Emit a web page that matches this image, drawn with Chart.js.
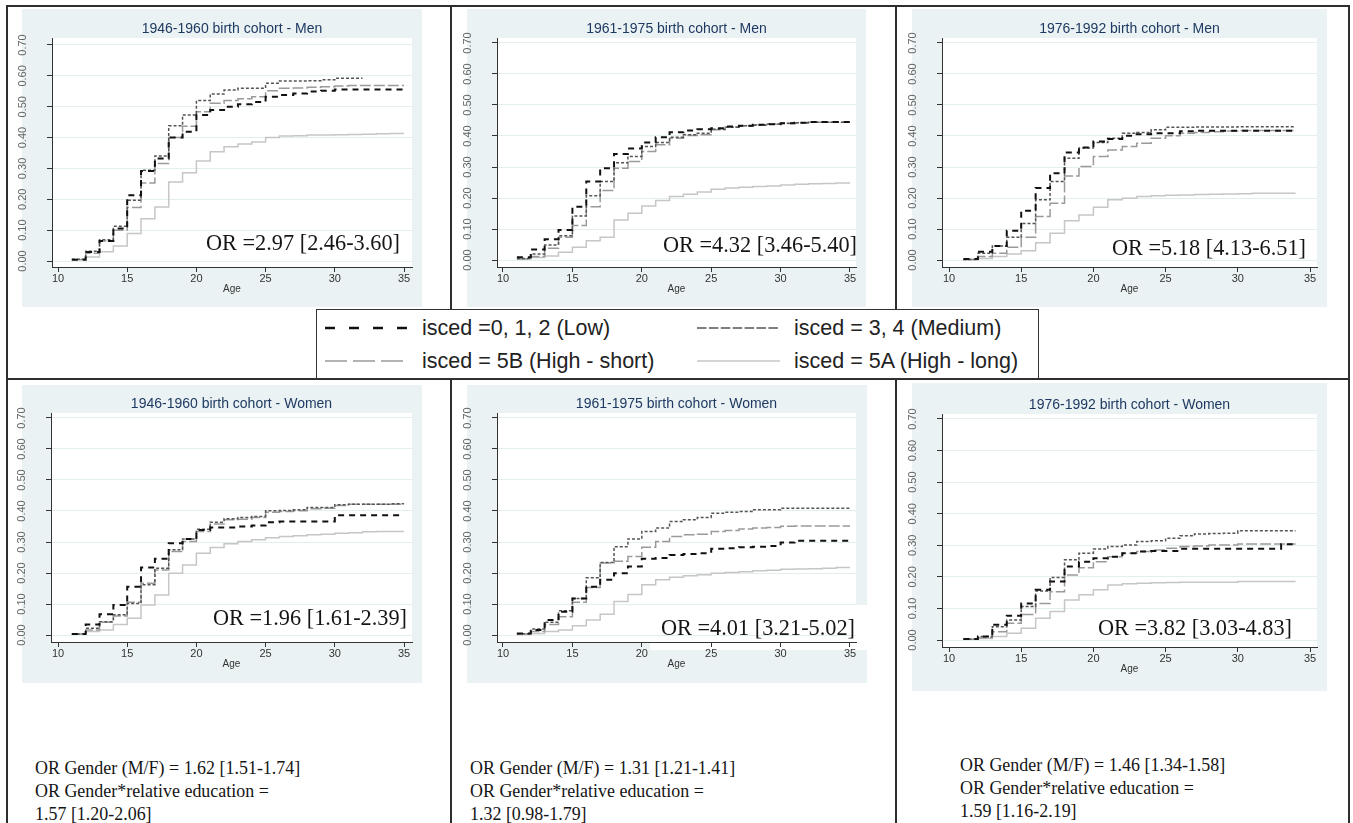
<!DOCTYPE html>
<html>
<head>
<meta charset="utf-8">
<script src="https://cdn.jsdelivr.net/npm/chart.js@4/dist/chart.umd.min.js"></script>
<style>
  body { margin: 0; width: 1353px; height: 823px; background: #fff; position: relative; overflow: hidden;
         font-family: "Liberation Sans", Arial, sans-serif; }
  .bg { position: absolute; background: #eaf2f3; }
  .orbox { position: absolute; background: #fff; }
  .cv { position: absolute; }
  .rule { position: absolute; background: #2e2e2e; }
  .or { position: absolute; font-family: "Liberation Serif", serif; font-size: 22.3px; color: #151515;
        white-space: nowrap; transform: translateY(-50%); }
  .note { position: absolute; font-family: "Liberation Serif", serif; font-size: 19.5px; line-height: 23px;
          color: #151515; white-space: nowrap; transform: scaleX(0.92); transform-origin: 0 0; }
  #legend { position: absolute; left: 316px; top: 309px; width: 721px; height: 68px; background: #fff;
            border: 1.5px solid #333; }
  .lg-text { position: absolute; font-size: 21.5px; color: #222; white-space: nowrap; transform: translateY(-50%); }
</style>
</head>
<body>
<div id="root"></div>
<div id="legend"></div>
<script>
// Cumulative proportion by age — KM-style step curves
const AGES = [11, 12, 13, 14, 15, 16, 17, 18, 19, 20, 21, 22, 23, 24, 25, 26, 27, 28, 29, 30, 31, 32, 33, 34, 35];
const Y_TICKS = [0, 0.1, 0.2, 0.3, 0.4, 0.5, 0.6, 0.7];
const X_TICKS = [10, 15, 20, 25, 30, 35];

const SERIES_LABELS = ['isced =0, 1, 2 (Low)', 'isced = 3, 4 (Medium)', 'isced = 5B (High - short)', 'isced = 5A (High - long)'];

const PANEL_TITLES = [
    '1946-1960 birth cohort - Men', '1961-1975 birth cohort - Men', '1976-1992 birth cohort - Men',
    '1946-1960 birth cohort - Women', '1961-1975 birth cohort - Women', '1976-1992 birth cohort - Women',
];
const OR_EDUCATION = ['OR =2.97 [2.46-3.60]', 'OR =4.32 [3.46-5.40]', 'OR =5.18 [4.13-6.51]',
                      'OR =1.96 [1.61-2.39]', 'OR =4.01 [3.21-5.02]', 'OR =3.82 [3.03-4.83]'];
const OR_GENDER = ['1.62 [1.51-1.74]', '1.31 [1.21-1.41]', '1.46 [1.34-1.58]'];
const OR_INTERACTION = ['1.57 [1.20-2.06]', '1.32 [0.98-1.79]', '1.59 [1.16-2.19]'];

// Men 1946-1960
const men4660Low  = [0.004, 0.029, 0.065, 0.105, 0.213, 0.292, 0.332, 0.400, 0.419, 0.473, 0.489, 0.500, 0.508, 0.515, 0.532, 0.538, 0.543, 0.549, 0.552, 0.556, 0.556, 0.556, 0.556, 0.556, 0.556];
const men4660Med  = [0.006, 0.032, 0.069, 0.113, 0.197, 0.294, 0.340, 0.438, 0.473, 0.520, 0.541, 0.554, 0.560, 0.560, 0.576, 0.583, 0.583, 0.584, 0.587, 0.592, 0.592, 0.592, null, null, null];
const men4660HiS  = [0.005, 0.025, 0.065, 0.100, 0.173, 0.253, 0.316, 0.400, 0.437, 0.484, 0.511, 0.520, 0.526, 0.532, 0.552, 0.560, 0.561, 0.563, 0.565, 0.567, 0.569, 0.569, 0.569, 0.569, 0.569];
const men4660HiL  = [0.004, 0.013, 0.030, 0.049, 0.089, 0.137, 0.175, 0.256, 0.286, 0.324, 0.354, 0.370, 0.379, 0.386, 0.400, 0.405, 0.406, 0.408, 0.408, 0.409, 0.410, 0.411, 0.412, 0.413, 0.413];
// Men 1961-1975
const men6175Low  = [0.009, 0.034, 0.067, 0.097, 0.172, 0.253, 0.296, 0.342, 0.360, 0.379, 0.396, 0.412, 0.418, 0.422, 0.425, 0.431, 0.433, 0.436, 0.438, 0.441, 0.443, 0.445, 0.445, 0.445, 0.445];
const men6175Med  = [0.005, 0.019, 0.048, 0.078, 0.142, 0.207, 0.253, 0.314, 0.334, 0.366, 0.379, 0.396, 0.404, 0.409, 0.422, 0.428, 0.433, 0.435, 0.439, 0.441, 0.443, 0.444, 0.444, 0.444, 0.444];
const men6175HiS  = [0.003, 0.011, 0.038, 0.073, 0.111, 0.172, 0.224, 0.296, 0.318, 0.350, 0.372, 0.393, 0.402, 0.404, 0.420, 0.429, 0.432, 0.436, 0.438, 0.440, 0.442, 0.444, 0.444, 0.444, 0.444];
const men6175HiL  = [0.003, 0.008, 0.013, 0.025, 0.041, 0.062, 0.073, 0.129, 0.151, 0.174, 0.192, 0.205, 0.212, 0.219, 0.228, 0.232, 0.235, 0.237, 0.239, 0.242, 0.244, 0.246, 0.247, 0.248, 0.248];
// Men 1976-1992 (observed up to age 34)
const men7692Low  = [0.003, 0.027, 0.045, 0.094, 0.159, 0.232, 0.280, 0.347, 0.363, 0.382, 0.390, 0.401, 0.406, 0.409, 0.409, 0.415, 0.417, 0.417, 0.417, 0.417, 0.417, 0.417, 0.417, 0.417, null];
const men7692Med  = [0.002, 0.022, 0.045, 0.073, 0.118, 0.194, 0.253, 0.328, 0.361, 0.379, 0.393, 0.409, 0.411, 0.420, 0.428, 0.428, 0.429, 0.429, 0.429, 0.430, 0.430, 0.430, 0.430, 0.430, null];
const men7692HiS  = [0.002, 0.011, 0.022, 0.041, 0.073, 0.140, 0.183, 0.271, 0.302, 0.334, 0.355, 0.366, 0.377, 0.393, 0.401, 0.409, 0.411, 0.414, 0.416, 0.418, 0.418, 0.418, 0.418, 0.418, null];
const men7692HiL  = [0.002, 0.005, 0.011, 0.019, 0.030, 0.056, 0.086, 0.127, 0.145, 0.170, 0.194, 0.199, 0.205, 0.207, 0.209, 0.210, 0.211, 0.212, 0.213, 0.214, 0.215, 0.215, 0.215, 0.215, null];
// Women 1946-1960
const wom4660Low  = [0.003, 0.034, 0.067, 0.097, 0.156, 0.218, 0.246, 0.296, 0.310, 0.339, 0.347, 0.347, 0.350, 0.353, 0.364, 0.366, 0.366, 0.366, 0.366, 0.386, 0.386, 0.386, 0.386, 0.386, 0.386];
const wom4660Med  = [0.003, 0.022, 0.043, 0.065, 0.102, 0.162, 0.215, 0.275, 0.310, 0.341, 0.364, 0.375, 0.379, 0.382, 0.401, 0.402, 0.404, 0.411, 0.411, 0.420, 0.422, 0.422, 0.422, 0.423, 0.423];
const wom4660HiS  = [0.003, 0.016, 0.041, 0.061, 0.106, 0.167, 0.210, 0.269, 0.302, 0.334, 0.358, 0.372, 0.373, 0.379, 0.396, 0.398, 0.401, 0.407, 0.409, 0.418, 0.422, 0.422, 0.422, 0.422, 0.422];
const wom4660HiL  = [0.003, 0.011, 0.016, 0.034, 0.054, 0.097, 0.129, 0.199, 0.226, 0.264, 0.282, 0.294, 0.302, 0.307, 0.314, 0.318, 0.320, 0.323, 0.325, 0.328, 0.330, 0.333, 0.334, 0.334, 0.334];
// Women 1961-1975
const wom6175Low  = [0.005, 0.016, 0.048, 0.075, 0.118, 0.156, 0.178, 0.199, 0.221, 0.246, 0.248, 0.258, 0.261, 0.264, 0.278, 0.280, 0.283, 0.285, 0.287, 0.298, 0.304, 0.304, 0.304, 0.304, 0.304];
const wom6175Med  = [0.004, 0.019, 0.041, 0.078, 0.118, 0.185, 0.234, 0.285, 0.310, 0.334, 0.345, 0.366, 0.372, 0.379, 0.393, 0.396, 0.398, 0.404, 0.404, 0.409, 0.409, 0.409, 0.409, 0.409, 0.409];
const wom6175HiS  = [0.003, 0.011, 0.034, 0.059, 0.106, 0.153, 0.232, 0.238, 0.253, 0.283, 0.302, 0.318, 0.323, 0.325, 0.334, 0.337, 0.342, 0.345, 0.347, 0.351, 0.352, 0.352, 0.352, 0.352, 0.352];
const wom6175HiL  = [0.002, 0.005, 0.011, 0.016, 0.030, 0.048, 0.067, 0.108, 0.131, 0.162, 0.178, 0.186, 0.191, 0.194, 0.199, 0.202, 0.204, 0.207, 0.209, 0.212, 0.213, 0.214, 0.215, 0.218, 0.218];
// Women 1976-1992 (observed up to age 34)
const wom7692Low  = [0.003, 0.011, 0.048, 0.077, 0.116, 0.159, 0.185, 0.233, 0.248, 0.259, 0.264, 0.275, 0.280, 0.282, 0.282, 0.289, 0.289, 0.289, 0.289, 0.289, 0.289, 0.289, 0.303, 0.303, null];
const wom7692Med  = [0.002, 0.011, 0.042, 0.063, 0.106, 0.155, 0.198, 0.254, 0.275, 0.288, 0.296, 0.301, 0.312, 0.314, 0.322, 0.330, 0.336, 0.337, 0.338, 0.346, 0.346, 0.346, 0.346, 0.346, null];
const wom7692HiS  = [0.002, 0.007, 0.026, 0.053, 0.081, 0.116, 0.153, 0.206, 0.229, 0.248, 0.264, 0.275, 0.280, 0.285, 0.291, 0.296, 0.298, 0.301, 0.301, 0.304, 0.304, 0.304, 0.304, 0.304, null];
const wom7692HiL  = [0.002, 0.005, 0.011, 0.021, 0.037, 0.069, 0.090, 0.127, 0.143, 0.159, 0.174, 0.178, 0.180, 0.181, 0.182, 0.183, 0.183, 0.183, 0.183, 0.185, 0.185, 0.185, 0.185, 0.185, null];

const PANEL_SERIES = [
    [men4660Low, men4660Med, men4660HiS, men4660HiL],
    [men6175Low, men6175Med, men6175HiS, men6175HiL],
    [men7692Low, men7692Med, men7692HiS, men7692HiL],
    [wom4660Low, wom4660Med, wom4660HiS, wom4660HiL],
    [wom6175Low, wom6175Med, wom6175HiS, wom6175HiL],
    [wom7692Low, wom7692Med, wom7692HiS, wom7692HiL],
];

// line look per education group (chart / legend sample)
const STYLES = [
    { color: '#111111', width: 2,   dash: [6, 5],  legendDash: [10, 14],   legendWidth: 2.5 },
    { color: '#555555', width: 1.5, dash: [3, 2],  legendDash: [9.5, 2.4], legendWidth: 1.5 },
    { color: '#9a9a9a', width: 1.5, dash: [11, 3], legendDash: [22, 6],    legendWidth: 1.5 },
    { color: '#c6c6c6', width: 1.5, dash: [],      legendDash: [],         legendWidth: 1.5 },
];

// page geometry of each panel (pixels)
const PANELS = [
    { bg: [22, 9, 400, 298],   yAxisX: 52,  x10: 58,  x35: 404,  plotRight: 412,  y0: 261, y70: 45,  xAxisY: 267, plotTop: 38,  or: [206, 243] },
    { bg: [467, 9, 399, 298],  yAxisX: 497, x10: 503, x35: 850,  plotRight: 856,  y0: 260, y70: 43,  xAxisY: 267, plotTop: 38,  or: [663, 245] },
    { bg: [912, 9, 415, 298],  yAxisX: 942, x10: 949, x35: 1310, plotRight: 1317, y0: 260, y70: 43,  xAxisY: 267, plotTop: 38,  or: [1112, 248] },
    { bg: [22, 385, 400, 298], yAxisX: 51,  x10: 58,  x35: 404,  plotRight: 412,  y0: 635, y70: 418, xAxisY: 642, plotTop: 413, or: [213, 618] },
    { bg: [467, 385, 400, 298],yAxisX: 497, x10: 503, x35: 850,  plotRight: 856,  y0: 635, y70: 418, xAxisY: 642, plotTop: 413, or: [661, 628],
      orBox: [650, 605, 217, 45] },
    { bg: [912, 383, 415, 308],yAxisX: 942, x10: 949, x35: 1310, plotRight: 1317, y0: 640, y70: 419, xAxisY: 647, plotTop: 414, or: [1098, 628] },
];

Chart.defaults.font.family = "'Liberation Sans', Arial, sans-serif";

const plotBg = {
    id: 'plotBg',
    beforeDraw(chart) {
        const { ctx, chartArea: a } = chart;
        ctx.save();
        ctx.fillStyle = '#ffffff';
        ctx.fillRect(a.left, a.top, a.right - a.left, a.bottom - a.top);
        ctx.restore();
    }
};

const root = document.getElementById('root');

function addDiv(cls, css, html) {
    const d = document.createElement('div');
    d.className = cls;
    Object.assign(d.style, css);
    if (html != null) d.innerHTML = html;
    root.appendChild(d);
    return d;
}

function makePanel(p, idx) {
    const [bx, by, bw, bh] = p.bg;
    addDiv('bg', { left: bx + 'px', top: by + 'px', width: bw + 'px', height: bh + 'px' });
    if (p.orBox) {
        const [ox, oy, ow, oh] = p.orBox;
        addDiv('orbox', { left: ox + 'px', top: oy + 'px', width: ow + 'px', height: oh + 'px' });
    }

    const cLeft = bx - 14, cTop = by, cW = bw + 14, cH = bh;
    const canvas = document.createElement('canvas');
    canvas.className = 'cv';
    canvas.width = cW; canvas.height = cH;
    Object.assign(canvas.style, { left: cLeft + 'px', top: cTop + 'px', width: cW + 'px', height: cH + 'px' });
    root.appendChild(canvas);

    const pxY = (p.y0 - p.y70) / 0.7;
    const pxX = (p.x35 - p.x10) / 25;
    const yMin = -(p.xAxisY - p.y0) / pxY;
    const yMax = 0.7 + (p.y70 - p.plotTop) / pxY;
    const xMin = 10 - (p.x10 - p.yAxisX) / pxX;
    const xMax = 35 + (p.plotRight - p.x35) / pxX;
    const yScaleW = p.yAxisX - cLeft;
    const xScaleH = cTop + cH - p.xAxisY;
    const titleH = p.plotTop - cTop;
    const ageY = p.xAxisY + 22;

    const datasets = PANEL_SERIES[idx].map((vals, i) => ({
        label: SERIES_LABELS[i],
        data: AGES.map((a, k) => ({ x: a, y: vals[k] })),
        borderColor: STYLES[i].color,
        borderWidth: STYLES[i].width,
        borderDash: STYLES[i].dash,
        stepped: true,
        pointRadius: 0,
        fill: false,
        spanGaps: false,
    }));

    new Chart(canvas, {
        type: 'line',
        data: { datasets },
        options: {
            responsive: false,
            animation: false,
            devicePixelRatio: 1,
            layout: { padding: { left: 0, top: 0, bottom: 0, right: cLeft + cW - p.plotRight } },
            plugins: {
                legend: { display: false },
                tooltip: { enabled: false },
                title: {
                    display: true, text: PANEL_TITLES[idx], fullSize: false,
                    color: '#1f3a62', font: { size: 14, weight: 'normal' },
                    padding: { top: titleH - 16.8 - 0.5, bottom: 0.5 }
                }
            },
            scales: {
                x: {
                    type: 'linear', min: xMin, max: xMax,
                    afterBuildTicks: s => { s.ticks = X_TICKS.map(v => ({ value: v })); },
                    afterFit: s => { s.height = xScaleH; },
                    ticks: { color: '#333', font: { size: 11 }, padding: 0, maxRotation: 0, callback: v => v },
                    grid: { drawOnChartArea: false, tickLength: 5, tickColor: '#333' },
                    border: { color: '#333', width: 1 },
                    title: { display: true, text: 'Age', color: '#333', font: { size: 10 },
                             padding: { top: 0, bottom: cTop + cH - ageY - 6 } }
                },
                y: {
                    min: yMin, max: yMax,
                    afterBuildTicks: s => { s.ticks = Y_TICKS.map(v => ({ value: v })); },
                    afterFit: s => { s.width = yScaleW; },
                    ticks: { color: '#666', font: { size: 11 }, minRotation: 90, maxRotation: 90,
                             crossAlign: 'center', padding: 13, callback: v => v.toFixed(2) },
                    grid: { color: '#e4edef', lineWidth: 1, tickLength: 5, tickColor: '#333' },
                    border: { color: '#333', width: 1 }
                }
            }
        },
        plugins: [plotBg]
    });

    addDiv('or', { left: p.or[0] + 'px', top: p.or[1] + 'px' }, OR_EDUCATION[idx]);
}

// frame rules
[
    { left: '6px', top: '5px', width: '1344px', height: '2px' },
    { left: '6px', top: '5px', width: '2px', height: '818px' },
    { left: '1348px', top: '5px', width: '2px', height: '818px' },
    { left: '6px', top: '378px', width: '1344px', height: '1.5px' },
    { left: '450px', top: '5px', width: '1.5px', height: '818px' },
    { left: '895px', top: '5px', width: '1.5px', height: '818px' },
].forEach(css => addDiv('rule', css));

PANELS.forEach(makePanel);

// shared legend
const legend = document.getElementById('legend');
const legendPos = [[8, 18], [380, 18], [8, 51], [380, 51]];
let svg = '<svg width="721" height="68" style="position:absolute;left:0;top:0">';
STYLES.forEach((s, i) => {
    const [lx, ly] = legendPos[i];
    svg += `<line x1="${lx}" y1="${ly}" x2="${lx + 83}" y2="${ly}" stroke="${s.color}" stroke-width="${s.legendWidth}"` +
           (s.legendDash.length ? ` stroke-dasharray="${s.legendDash.join(',')}"` : '') + '/>';
});
svg += '</svg>';
legend.innerHTML = svg + SERIES_LABELS.map((t, i) =>
    `<div class="lg-text" style="left:${legendPos[i][0] + 97}px;top:${legendPos[i][1]}px">${t}</div>`).join('');

// gender odds ratios below the Women panels
const noteX = [35, 470, 960];
const noteY = [756, 756, 753];
noteX.forEach((x, i) => {
    addDiv('note', { left: x + 'px', top: noteY[i] + 'px' },
        `OR Gender (M/F) = ${OR_GENDER[i]}<br>OR Gender*relative education =<br>${OR_INTERACTION[i]}`);
});
</script>
</body>
</html>
